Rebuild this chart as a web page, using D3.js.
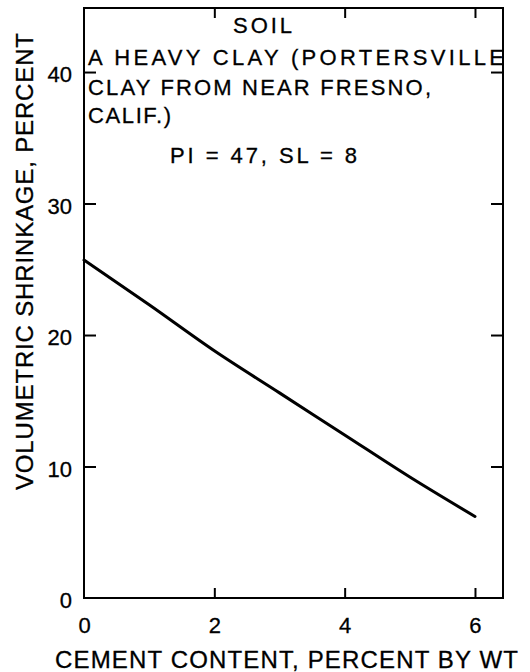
<!DOCTYPE html>
<html>
<head>
<meta charset="utf-8">
<script src="https://cdn.jsdelivr.net/npm/d3@7"></script>
<style>
  html, body { margin: 0; padding: 0; background: #fff; }
  svg { display: block; }
  text { font-family: "Liberation Sans", "DejaVu Sans", sans-serif; fill: #000; }
</style>
</head>
<body>
<script>
// ---- data ----
const cementContent = [0, 1, 2, 3, 4, 5, 6];
const shrinkage = [25.7, 22.3, 18.8, 15.6, 12.4, 9.2, 6.2];
const xTicks = [0, 2, 4, 6];
const yTicks = [0, 10, 20, 30, 40];
const xLabel = "CEMENT CONTENT, PERCENT BY WT";
const yLabel = "VOLUMETRIC SHRINKAGE, PERCENT";
const noteLines = ["SOIL", "A HEAVY CLAY (PORTERSVILLE", "CLAY FROM NEAR FRESNO,", "CALIF.)", "PI = 47,   SL = 8"];

// ---- layout ----
const W = 530, H = 672;
const L = 84, R = 503, T = 8, B = 598;

const svg = d3.select("body").append("svg").attr("width", W).attr("height", H);

const x = d3.scaleLinear().domain([0, 6.43]).range([L, R]);
const y = d3.scaleLinear().domain([0, 44.87]).range([B, T]);

function styleAxis(g) {
  g.select(".domain").remove();
  g.selectAll(".tick line").attr("stroke", "#000").attr("stroke-width", 2);
  g.selectAll(".tick text").attr("font-size", 22).attr("fill", "#000")
    .attr("stroke", "#000").attr("stroke-width", 0.3);
}

// left axis (ticks inward)
svg.append("g").attr("transform", `translate(${L},0)`)
  .call(d3.axisLeft(y).tickValues(yTicks).tickSize(-12).tickPadding(12).tickFormat(d3.format("d")))
  .call(styleAxis)
  .call(g => g.selectAll(".tick text").attr("dy", "0.45em"))
  .call(g => g.selectAll(".tick").filter(d => d === 0).select("line").remove());

// right axis
svg.append("g").attr("transform", `translate(${R},0)`)
  .call(d3.axisRight(y).tickValues(yTicks.filter(d => d > 0)).tickSize(-12).tickFormat(""))
  .call(styleAxis);

// bottom axis
svg.append("g").attr("transform", `translate(0,${B})`)
  .call(d3.axisBottom(x).tickValues(xTicks).tickSize(-10).tickPadding(19).tickFormat(d3.format("d")))
  .call(styleAxis)
  .call(g => g.selectAll(".tick").filter(d => d === 0).select("line").remove());

// top axis
svg.append("g").attr("transform", `translate(0,${T})`)
  .call(d3.axisTop(x).tickValues(xTicks.filter(d => d > 0)).tickSize(-10).tickFormat(""))
  .call(styleAxis);

// frame
svg.append("rect")
  .attr("x", L).attr("y", T).attr("width", R - L).attr("height", B - T)
  .attr("fill", "none").attr("stroke", "#000").attr("stroke-width", 2);

// curve
const line = d3.line()
  .x((d, i) => x(cementContent[i]))
  .y(d => y(d))
  .curve(d3.curveMonotoneX);

svg.append("path")
  .datum(shrinkage)
  .attr("d", line)
  .attr("fill", "none")
  .attr("stroke", "#000")
  .attr("stroke-width", 3)
  .attr("stroke-linecap", "round");

// annotation text
const notePos = [
  {x: 233, y: 33, w: 59},
  {x: 88, y: 65, w: 416},
  {x: 88, y: 95, w: 343},
  {x: 88, y: 123, w: 83},
  {x: 170, y: 163, w: 187}
];
noteLines.forEach((t, i) => {
  svg.append("text")
    .attr("x", notePos[i].x).attr("y", notePos[i].y)
    .attr("font-size", 22)
    .attr("stroke", "#000").attr("stroke-width", 0.3)
    .attr("textLength", notePos[i].w)
    .attr("lengthAdjust", "spacing")
    .text(t);
});

// axis titles
svg.append("text")
  .attr("x", 55).attr("y", 668)
  .attr("font-size", 24)
  .attr("stroke", "#000").attr("stroke-width", 0.3)
  .attr("textLength", 463)
  .attr("lengthAdjust", "spacing")
  .text(xLabel);

svg.append("text")
  .attr("transform", "translate(33,490) rotate(-90)")
  .attr("x", 0).attr("y", 0)
  .attr("font-size", 24)
  .attr("stroke", "#000").attr("stroke-width", 0.3)
  .attr("textLength", 457)
  .attr("lengthAdjust", "spacing")
  .text(yLabel);
</script>
</body>
</html>
